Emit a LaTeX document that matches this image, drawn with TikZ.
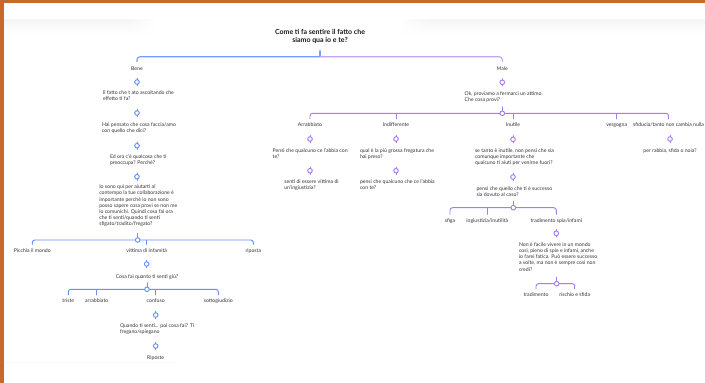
\documentclass[tikz,border=0pt]{standalone}
\usepackage{fontspec}
\setmainfont{Lato}
\usetikzlibrary{fadings}
\tikzfading[name=fadeR, left color=transparent!0, right color=transparent!100]
\tikzfading[name=fadeL, left color=transparent!100, right color=transparent!0]
\definecolor{bl}{HTML}{6492F8}
\definecolor{pu}{HTML}{A57DF3}
\definecolor{blt}{HTML}{739EFF}
\definecolor{put}{HTML}{C4A3FA}
\definecolor{txt}{HTML}{363636}
\definecolor{framec}{HTML}{C8692C}
\newcommand\stub[2]{%
  \draw[link,#2] ([yshift=3.7pt]#1) -- ([yshift=-3.7pt]#1);
  \node[dot,draw=#2] (#1c) at (#1) {};}
\newcommand\hubdot[2]{\node[dot,draw=#2] (#1c) at (#1) {};}
\begin{document}
\begin{tikzpicture}[x=1pt,y=-1pt,
  every node/.style={inner sep=0pt, outer sep=0pt, text=txt, font=\fontsize{5.15}{6.2}\selectfont},
  blk/.style={anchor=north west, align=left},
  lbl/.style={anchor=north, text height=3.7pt, text depth=1pt},
  link/.style={line width=0.95pt, line cap=round},
  dot/.style={circle, fill=white, minimum size=4.6pt, line width=0.95pt},
  shadowbar/.style={top color=black!4, bottom color=white},
]
\useasboundingbox (0,0) rectangle (705,383);
\clip (0,0) rectangle (705,383);
% background decorations
\fill[white] (0,0) rectangle (705,383);
\shade[shadowbar] (4,19) rectangle (125,34);
\shade[shadowbar, path fading=fadeR] (125,19) rectangle (155,34);
\shade[shadowbar, path fading=fadeL] (400,19) rectangle (430,34);
\shade[shadowbar] (430,19) rectangle (705,34);
\draw[black!3, line width=0.6pt] (4,362) -- (176,362);
\fill[framec] (0,0) rectangle (705,3);
\fill[framec] (0,0) rectangle (4,383);

% ---------- title ----------
\node[anchor=north, align=center, text=black!90, font=\fontsize{7}{8}\selectfont\bfseries] (title) at (320,29.3) {Come ti fa sentire il fatto che\\siamo qua io e te?};
\coordinate (t0) at (320,56.7);

% ---------- Bene subtree ----------
\node[lbl] (bene) at (137,66.6) {Bene};
\coordinate (d1) at (137,82);
\node[blk] (b1) at (103,90.9) {Il fatto che t ato ascoltando che\\effetto ti fa?};
\coordinate (d2) at (137,113);
\node[blk] (b2) at (102,122.9) {Hai pensato che cosa faccia/amo\\con quello che dici?};
\coordinate (d3) at (137,145.7);
\node[blk] (b3) at (110,154.6) {Ed ora c'è qualcosa che ti\\preoccupa? Perchè?};
\coordinate (d4) at (137,176.7);
\node[blk] (b4) at (99.3,184.9) {Io sono qui per aiutarti al\\contempo la tue collaborazione è\\importante perchè io non sono\\posso sapere cosa provi se non me\\lo comunichi. Quindi cosa fai ora\\che ti senti/quando ti senti\\sfigato/tradito/fregato?};
\coordinate (h1) at (137.7,240);
\node[lbl] (c1) at (32.3,248.3) {Picchia il mondo};
\node[lbl] (c2) at (146.7,248.3) {vittima di infamità};
\node[lbl] (c3) at (253.3,248.3) {riposta};
\coordinate (d5) at (146.7,264);
\node[lbl] (b5) at (147,274.3) {Cosa fai quanto ti senti giù?};
\coordinate (h2) at (147,289.3);
\node[lbl] (e1) at (68.3,298.9) {triste};
\node[lbl] (e2) at (96.7,298.9) {arrabbiato};
\node[lbl] (e3) at (155.7,298.9) {confuso};
\node[lbl] (e4) at (218.3,298.9) {sottogiudizio};
\coordinate (d6) at (155.7,315);
\node[blk] (b6) at (120,323.6) {Quando ti senti... poi cosa fai? Ti\\fregano/spiegano};
\coordinate (d7) at (155.7,346);
\node[lbl] (b7) at (155.7,355.9) {Riposte};

% ---------- Male subtree ----------
\node[lbl] (male) at (502.3,66.6) {Male};
\coordinate (d8) at (502.3,82.3);
\node[blk] (m1) at (464.7,91.3) {Ok, proviamo a fermarci un attimo.\\Che cosa provi?};
\coordinate (h3) at (502.3,113.3);
\node[lbl] (f1) at (310,122.9) {Arrabbiato};
\node[lbl] (f2) at (396,122.9) {Indifferente};
\node[lbl] (f3) at (513,122.9) {Inutile};
\node[lbl] (f4) at (616.7,122.9) {vergogna};
\node[lbl] (f5) at (668.5,122.9) {sfiducia/tanto non cambia nulla};
% Arrabbiato
\coordinate (d9) at (310,139);
\node[blk] (a1) at (272.7,148.3) {Pensi che qualcuno ce l'abbia con\\te?};
\coordinate (d10) at (310,170.7);
\node[blk] (a2) at (284.3,179.3) {senti di essere vittima di\\un'ingiustizia?};
% Indifferente
\coordinate (d11) at (396,139);
\node[blk] (i1) at (360,148.3) {qual è la più grossa fregatura che\\hai preso?};
\coordinate (d12) at (396,170.7);
\node[blk] (i2) at (360,179.3) {pensi che qualcuno che ce l'abbia\\con te?};
% Inutile
\coordinate (d13) at (513,139.3);
\node[blk] (u1) at (475,148.3) {se tanto è inutile, non pensi che sia\\comunque importante che\\qualcuno ti aiuti per venirne fuori?};
\coordinate (d14) at (513,177);
\node[blk] (u2) at (476.5,186.6) {pensi che quello che ti è successo\\sia dovuto al caso?};
\coordinate (h4) at (513.3,207.7);
\node[lbl] (g1) at (450,218.3) {sfiga};
\node[lbl] (g2) at (487.3,218.3) {ingiustizia/inutilità};
\node[lbl] (g3) at (556.3,218.3) {tradimento spia/infami};
\coordinate (d15) at (556.3,233.3);
\node[blk] (u3) at (519,242.6) {Non è facile vivere in un mondo\\così, pieno di spie e infami, anche\\io farei fatica. Può essere successo\\a volte, ma non è sempre così non\\credi?};
\coordinate (h5) at (556.7,283.7);
\node[lbl] (k1) at (536,292.9) {tradimento};
\node[lbl] (k2) at (574.7,292.9) {rischio e sfida};
% sfiducia
\coordinate (d16) at (670,139);
\node[lbl] (s1) at (670,148.3) {per rabbia, sfida o noia?};

% ---------- connectors ----------
\draw[link,line width=1.1pt,blt] ([yshift=6pt]t0) -- (t0);
\draw[link,line width=1.1pt,blt,rounded corners=3pt] (t0) -| ([yshift=5pt]bene.north);
\draw[link,line width=1.1pt,put,rounded corners=3pt] (t0) -| ([yshift=5pt]male.north);

% blue branches
\draw[link,bl] ([yshift=6.5pt]h1) -- (h1);
\draw[link,bl,rounded corners=2.5pt] ([yshift=4pt]c1.north) |- (h1) -| ([yshift=4pt]c3.north);
\draw[link,bl] (c2.north |- h1) -- ([yshift=4pt]c2.north);
\draw[link,bl] ([yshift=6.5pt]h2) -- (h2);
\draw[link,bl,rounded corners=2.5pt] ([yshift=4pt]e1.north) |- (h2) -| ([yshift=4pt]e4.north);
\draw[link,bl] (e2.north |- h2) -- ([yshift=4pt]e2.north);
\draw[link,bl] (e3.north |- h2) -- ([yshift=4pt]e3.north);

% purple branches
\draw[link,pu] ([yshift=6.5pt]h3) -- (h3);
\draw[link,pu,rounded corners=2.5pt] ([yshift=4pt]f1.north) |- (h3) -| ([yshift=4pt]f5.north);
\draw[link,pu] (f2.north |- h3) -- ([yshift=4pt]f2.north);
\draw[link,pu] (f3.north |- h3) -- ([yshift=4pt]f3.north);
\draw[link,pu] (f4.north |- h3) -- ([yshift=4pt]f4.north);
\draw[link,pu] ([yshift=6.5pt]h4) -- (h4);
\draw[link,pu,rounded corners=2.5pt] ([yshift=4pt]g1.north) |- (h4) -| ([yshift=4pt]g3.north);
\draw[link,pu] (g2.north |- h4) -- ([yshift=4pt]g2.north);
\draw[link,pu] ([yshift=6.5pt]h5) -- (h5);
\draw[link,pu,rounded corners=2.5pt] ([yshift=4pt]k1.north) |- (h5) -| ([yshift=4pt]k2.north);

% stubs with dots
\stub{d1}{bl}\stub{d2}{bl}\stub{d3}{bl}\stub{d4}{bl}\stub{d5}{bl}\stub{d6}{bl}\stub{d7}{bl}
\stub{d8}{pu}\stub{d9}{pu}\stub{d10}{pu}\stub{d11}{pu}\stub{d12}{pu}\stub{d13}{pu}
\stub{d14}{pu}\stub{d15}{pu}\stub{d16}{pu}
\hubdot{h1}{bl}\hubdot{h2}{bl}\hubdot{h3}{pu}\hubdot{h4}{pu}\hubdot{h5}{pu}
\end{tikzpicture}
\end{document}
